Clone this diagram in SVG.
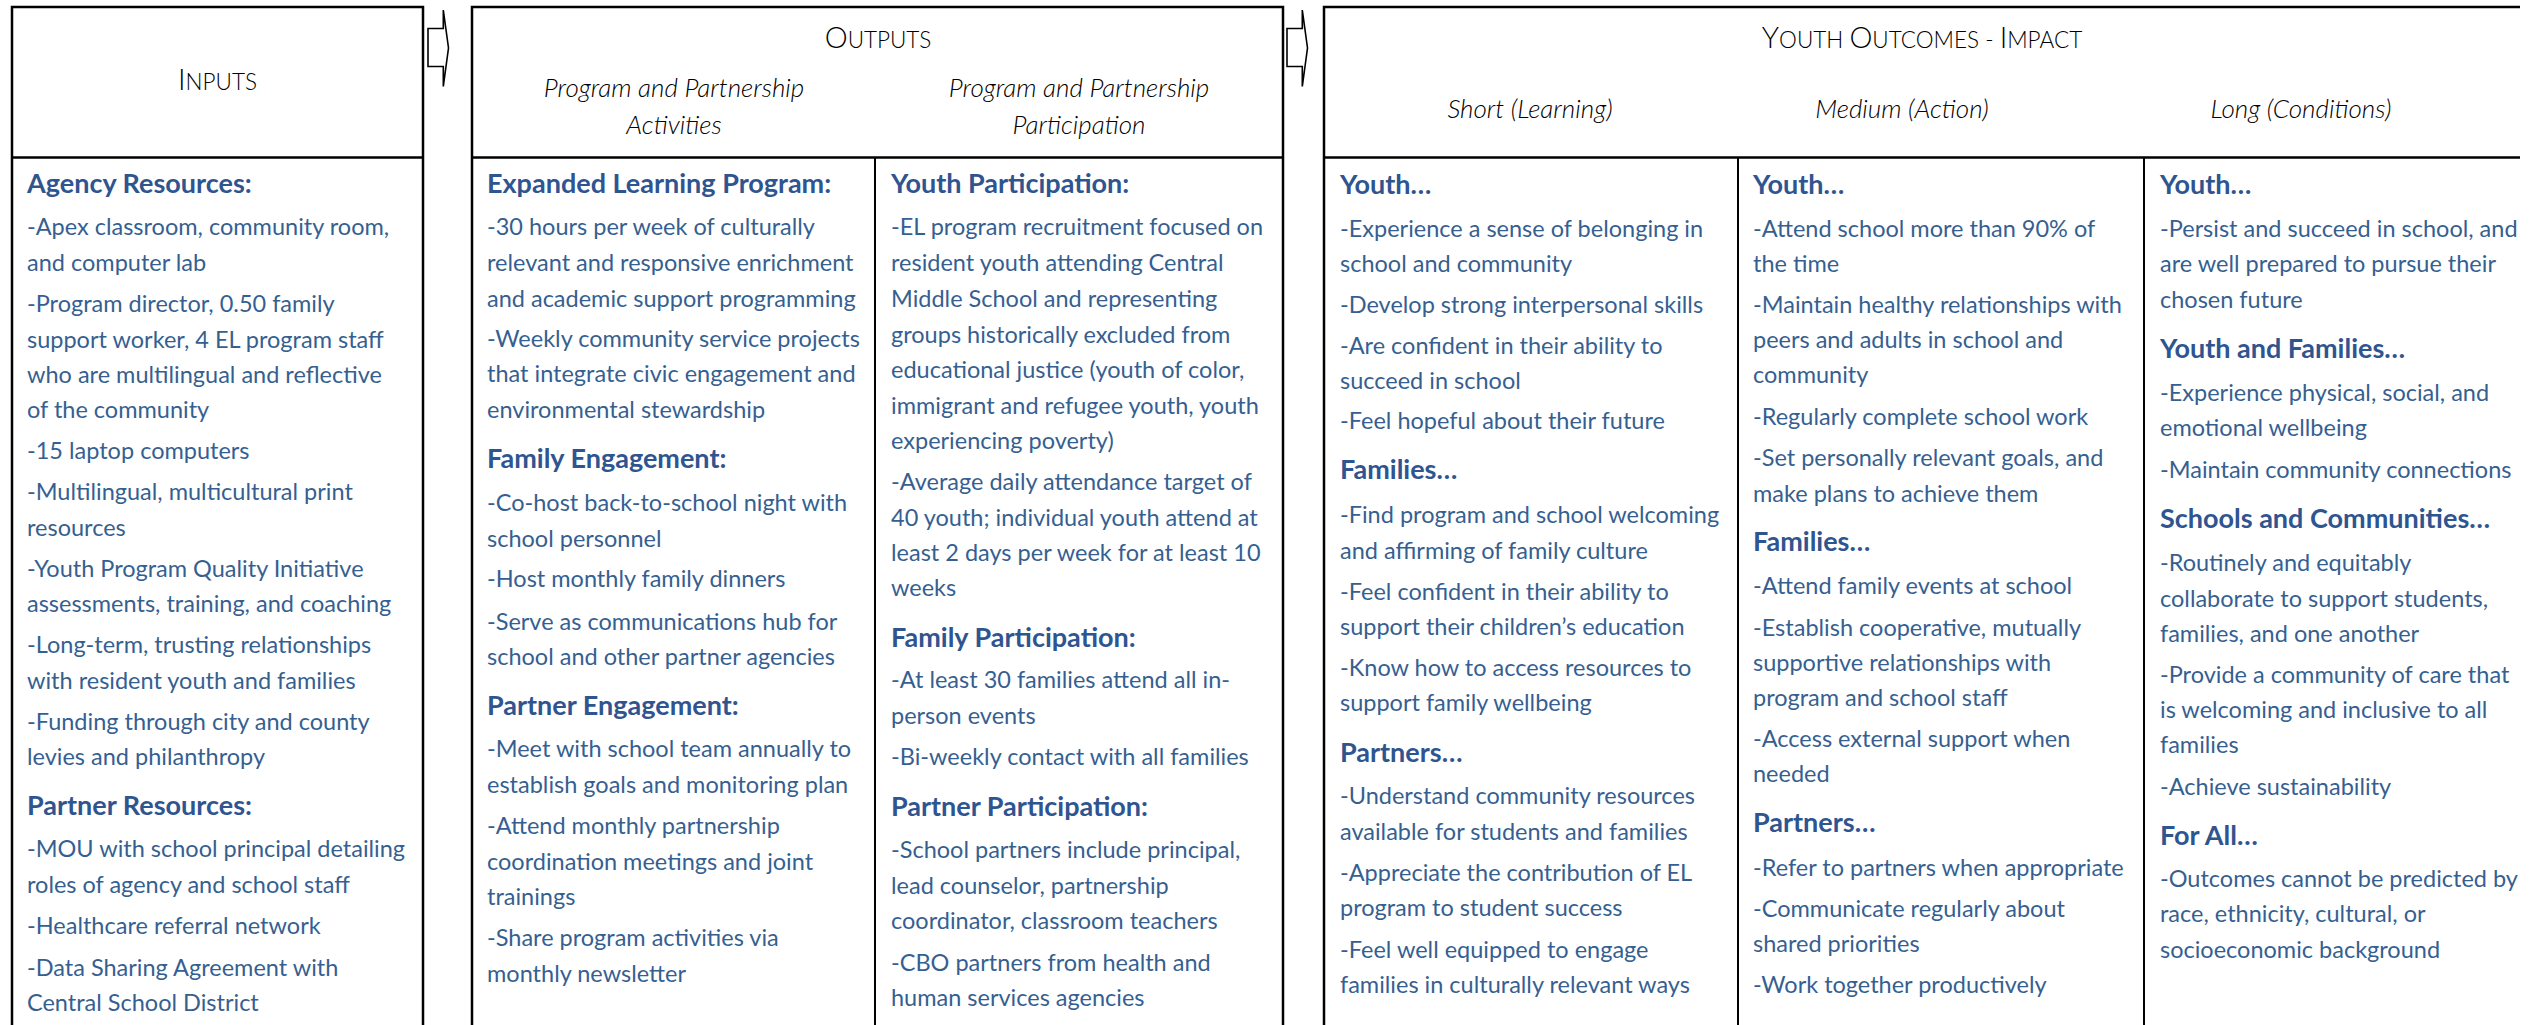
<svg xmlns="http://www.w3.org/2000/svg" width="2540" height="1025" viewBox="0 0 2540 1025">
<style>
  .box { fill: none; stroke: #000; stroke-width: 2.5; }
  .div { stroke: #000; stroke-width: 2; }
  .arrow { fill: #fff; stroke: #000; stroke-width: 1.6; stroke-linejoin: miter; }
  .t { font-family: Lato, "Open Sans", sans-serif; font-size: 23.5px; fill: #365F91; }
  .h { font-family: Lato, "Open Sans", sans-serif; font-size: 27px; font-weight: 700; fill: #2F5590; }
  .cap { font-family: Lato, "Open Sans", sans-serif; font-weight: 300; fill: #000; text-anchor: middle; }
  .big { font-size: 29px; }
  .sm { font-size: 22.5px; }
  .sub { font-family: Lato, "Open Sans", sans-serif; font-weight: 300; font-style: italic; font-size: 26px; fill: #000; text-anchor: middle; }
</style>
<rect width="2540" height="1025" fill="#fff"/>

<g id="connectors">
  <path class="arrow" d="M428,28.5 L443.3,28.5 L443.3,10 L448.5,48 L443.3,86.5 L443.3,66.5 L428,66.5 Z"/>
  <path class="arrow" d="M1287,28.5 L1302.3,28.5 L1302.3,10 L1307.5,48 L1302.3,86.5 L1302.3,66.5 L1287,66.5 Z"/>
</g>

<g id="inputs">
  <path class="box" d="M12,1025 L12,7 L423,7 L423,1025"/>
  <line class="box" x1="12" y1="157.5" x2="423" y2="157.5"/>
  <text class="cap" x="217.5" y="90"><tspan class="big">I</tspan><tspan class="sm">NPUTS</tspan></text>
  <text class="h" x="27" y="193">Agency Resources:</text>
  <text class="t" x="27" y="235">-Apex classroom, community room,</text>
  <text class="t" x="27" y="270.5">and computer lab</text>
  <text class="t" x="27" y="312">-Program director, 0.50 family</text>
  <text class="t" x="27" y="347.5">support worker, 4 EL program staff</text>
  <text class="t" x="27" y="383">who are multilingual and reflective</text>
  <text class="t" x="27" y="418">of the community</text>
  <text class="t" x="27" y="459">-15 laptop computers</text>
  <text class="t" x="27" y="500">-Multilingual, multicultural print</text>
  <text class="t" x="27" y="535.5">resources</text>
  <text class="t" x="27" y="576.5">-Youth Program Quality Initiative</text>
  <text class="t" x="27" y="612">assessments, training, and coaching</text>
  <text class="t" x="27" y="653">-Long-term, trusting relationships</text>
  <text class="t" x="27" y="688.5">with resident youth and families</text>
  <text class="t" x="27" y="730">-Funding through city and county</text>
  <text class="t" x="27" y="765">levies and philanthropy</text>
  <text class="h" x="27" y="815">Partner Resources:</text>
  <text class="t" x="27" y="857">-MOU with school principal detailing</text>
  <text class="t" x="27" y="893">roles of agency and school staff</text>
  <text class="t" x="27" y="934">-Healthcare referral network</text>
  <text class="t" x="27" y="975.5">-Data Sharing Agreement with</text>
  <text class="t" x="27" y="1011">Central School District</text>
</g>

<g id="outputs">
  <path class="box" d="M472,1025 L472,7 L1283,7 L1283,1025"/>
  <line class="box" x1="472" y1="157.5" x2="1283" y2="157.5"/>
  <line class="div" x1="875" y1="157" x2="875" y2="1025"/>
  <text class="cap" x="878" y="48"><tspan class="big">O</tspan><tspan class="sm">UTPUTS</tspan></text>
  <text class="sub" x="674" y="97">Program and Partnership</text>
  <text class="sub" x="674" y="134">Activities</text>
  <text class="sub" x="1079" y="97">Program and Partnership</text>
  <text class="sub" x="1079" y="134">Participation</text>
  <g id="activities">
    <text class="h" x="487" y="193">Expanded Learning Program:</text>
    <text class="t" x="487" y="235">-30 hours per week of culturally</text>
    <text class="t" x="487" y="270.5">relevant and responsive enrichment</text>
    <text class="t" x="487" y="306.5">and academic support programming</text>
    <text class="t" x="487" y="346.5">-Weekly community service projects</text>
    <text class="t" x="487" y="382">that integrate civic engagement and</text>
    <text class="t" x="487" y="418">environmental stewardship</text>
    <text class="h" x="487" y="468">Family Engagement:</text>
    <text class="t" x="487" y="511">-Co-host back-to-school night with</text>
    <text class="t" x="487" y="546.5">school personnel</text>
    <text class="t" x="487" y="587">-Host monthly family dinners</text>
    <text class="t" x="487" y="630">-Serve as communications hub for</text>
    <text class="t" x="487" y="665">school and other partner agencies</text>
    <text class="h" x="487" y="715">Partner Engagement:</text>
    <text class="t" x="487" y="757">-Meet with school team annually to</text>
    <text class="t" x="487" y="792.5">establish goals and monitoring plan</text>
    <text class="t" x="487" y="834">-Attend monthly partnership</text>
    <text class="t" x="487" y="869.5">coordination meetings and joint</text>
    <text class="t" x="487" y="905">trainings</text>
    <text class="t" x="487" y="946">-Share program activities via</text>
    <text class="t" x="487" y="981.5">monthly newsletter</text>
  </g>
  <g id="participation">
    <text class="h" x="891" y="193">Youth Participation:</text>
    <text class="t" x="891" y="235">-EL program recruitment focused on</text>
    <text class="t" x="891" y="270.5">resident youth attending Central</text>
    <text class="t" x="891" y="306.5">Middle School and representing</text>
    <text class="t" x="891" y="342.5">groups historically excluded from</text>
    <text class="t" x="891" y="378">educational justice (youth of color,</text>
    <text class="t" x="891" y="413.5">immigrant and refugee youth, youth</text>
    <text class="t" x="891" y="449">experiencing poverty)</text>
    <text class="t" x="891" y="490">-Average daily attendance target of</text>
    <text class="t" x="891" y="525.5">40 youth; individual youth attend at</text>
    <text class="t" x="891" y="561">least 2 days per week for at least 10</text>
    <text class="t" x="891" y="596">weeks</text>
    <text class="h" x="891" y="646.5">Family Participation:</text>
    <text class="t" x="891" y="688">-At least 30 families attend all in-</text>
    <text class="t" x="891" y="724">person events</text>
    <text class="t" x="891" y="765">-Bi-weekly contact with all families</text>
    <text class="h" x="891" y="816">Partner Participation:</text>
    <text class="t" x="891" y="858">-School partners include principal,</text>
    <text class="t" x="891" y="894">lead counselor, partnership</text>
    <text class="t" x="891" y="929">coordinator, classroom teachers</text>
    <text class="t" x="891" y="970.5">-CBO partners from health and</text>
    <text class="t" x="891" y="1006">human services agencies</text>
  </g>
</g>

<g id="outcomes">
  <path class="box" d="M1324,1025 L1324,7 L2520,7"/>
  <line class="box" x1="1324" y1="157.5" x2="2520" y2="157.5"/>
  <line class="div" x1="1738" y1="157" x2="1738" y2="1025"/>
  <line class="div" x1="2144" y1="157" x2="2144" y2="1025"/>
  <text class="cap" x="1922" y="48"><tspan class="big">Y</tspan><tspan class="sm">OUTH </tspan><tspan class="big">O</tspan><tspan class="sm">UTCOMES - </tspan><tspan class="big">I</tspan><tspan class="sm">MPACT</tspan></text>
  <text class="sub" x="1530" y="118">Short (Learning)</text>
  <text class="sub" x="1902" y="118">Medium (Action)</text>
  <text class="sub" x="2301" y="118">Long (Conditions)</text>
  <g id="short">
    <text class="h" x="1340" y="193.5">Youth…</text>
    <text class="t" x="1340" y="236.5">-Experience a sense of belonging in</text>
    <text class="t" x="1340" y="271.5">school and community</text>
    <text class="t" x="1340" y="313">-Develop strong interpersonal skills</text>
    <text class="t" x="1340" y="353.5">-Are confident in their ability to</text>
    <text class="t" x="1340" y="389">succeed in school</text>
    <text class="t" x="1340" y="429">-Feel hopeful about their future</text>
    <text class="h" x="1340" y="479">Families…</text>
    <text class="t" x="1340" y="522.5">-Find program and school welcoming</text>
    <text class="t" x="1340" y="558.5">and affirming of family culture</text>
    <text class="t" x="1340" y="600">-Feel confident in their ability to</text>
    <text class="t" x="1340" y="634.5">support their children’s education</text>
    <text class="t" x="1340" y="675.5">-Know how to access resources to</text>
    <text class="t" x="1340" y="711">support family wellbeing</text>
    <text class="h" x="1340" y="761.5">Partners…</text>
    <text class="t" x="1340" y="804">-Understand community resources</text>
    <text class="t" x="1340" y="839.5">available for students and families</text>
    <text class="t" x="1340" y="881">-Appreciate the contribution of EL</text>
    <text class="t" x="1340" y="916">program to student success</text>
    <text class="t" x="1340" y="958">-Feel well equipped to engage</text>
    <text class="t" x="1340" y="992.5">families in culturally relevant ways</text>
  </g>
  <g id="medium">
    <text class="h" x="1753" y="193.5">Youth…</text>
    <text class="t" x="1753" y="236.5">-Attend school more than 90% of</text>
    <text class="t" x="1753" y="271.5">the time</text>
    <text class="t" x="1753" y="313">-Maintain healthy relationships with</text>
    <text class="t" x="1753" y="348">peers and adults in school and</text>
    <text class="t" x="1753" y="383">community</text>
    <text class="t" x="1753" y="424.5">-Regularly complete school work</text>
    <text class="t" x="1753" y="466">-Set personally relevant goals, and</text>
    <text class="t" x="1753" y="501.5">make plans to achieve them</text>
    <text class="h" x="1753" y="550.5">Families…</text>
    <text class="t" x="1753" y="594">-Attend family events at school</text>
    <text class="t" x="1753" y="635.5">-Establish cooperative, mutually</text>
    <text class="t" x="1753" y="670.5">supportive relationships with</text>
    <text class="t" x="1753" y="706">program and school staff</text>
    <text class="t" x="1753" y="747">-Access external support when</text>
    <text class="t" x="1753" y="782">needed</text>
    <text class="h" x="1753" y="832">Partners…</text>
    <text class="t" x="1753" y="875.5">-Refer to partners when appropriate</text>
    <text class="t" x="1753" y="917">-Communicate regularly about</text>
    <text class="t" x="1753" y="952">shared priorities</text>
    <text class="t" x="1753" y="992.5">-Work together productively</text>
  </g>
  <g id="long">
    <text class="h" x="2160" y="193.5">Youth…</text>
    <text class="t" x="2160" y="236.5">-Persist and succeed in school, and</text>
    <text class="t" x="2160" y="271.5">are well prepared to pursue their</text>
    <text class="t" x="2160" y="307.5">chosen future</text>
    <text class="h" x="2160" y="357.5">Youth and Families…</text>
    <text class="t" x="2160" y="401">-Experience physical, social, and</text>
    <text class="t" x="2160" y="436">emotional wellbeing</text>
    <text class="t" x="2160" y="478">-Maintain community connections</text>
    <text class="h" x="2160" y="528">Schools and Communities…</text>
    <text class="t" x="2160" y="571">-Routinely and equitably</text>
    <text class="t" x="2160" y="606.5">collaborate to support students,</text>
    <text class="t" x="2160" y="641.5">families, and one another</text>
    <text class="t" x="2160" y="683">-Provide a community of care that</text>
    <text class="t" x="2160" y="718">is welcoming and inclusive to all</text>
    <text class="t" x="2160" y="753">families</text>
    <text class="t" x="2160" y="794.5">-Achieve sustainability</text>
    <text class="h" x="2160" y="845">For All…</text>
    <text class="t" x="2160" y="886.5">-Outcomes cannot be predicted by</text>
    <text class="t" x="2160" y="922">race, ethnicity, cultural, or</text>
    <text class="t" x="2160" y="958">socioeconomic background</text>
  </g>
</g>
</svg>
